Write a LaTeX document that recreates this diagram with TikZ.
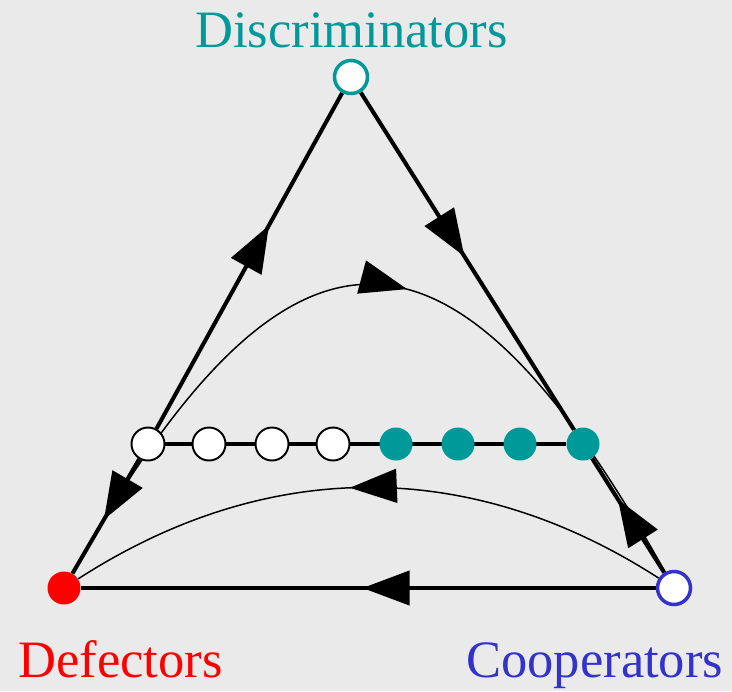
\documentclass[tikz,border=0pt]{standalone}
\usepackage{fontspec}
\setmainfont{Liberation Serif}
\usetikzlibrary{arrows.meta, decorations.markings}
\definecolor{discteal}{RGB}{0,153,153}
\definecolor{defred}{RGB}{255,0,0}
\definecolor{coopblue}{RGB}{51,51,204}
\definecolor{bggray}{RGB}{234,234,234}
\pgfdeclarelayer{canvas}
\pgfdeclarelayer{edges}
\pgfsetlayers{canvas,edges,main}
\tikzset{
  bigtip/.tip={Triangle[length=0.94cm, width=0.68cm]},
  edge/.style={line width=2.3pt, black},
  flow/.style={line width=0.85pt, black},
  arrowat/.style={
    postaction={decorate, decoration={markings,
      mark=at position #1 with {\arrow{bigtip}}}}
  },
  state/.style={circle, minimum size=0.66cm, inner sep=0pt},
  unstable/.style={state, draw=black, fill=white, line width=1.1pt},
  stable/.style={state, fill=discteal},
  vertexname/.style={anchor=base west, inner sep=0pt,
    font=\fontsize{29.9}{34}\selectfont}
}
\begin{document}
\begin{tikzpicture}[x=0.02cm, y=-0.02cm]
  % Background
  \begin{pgfonlayer}{canvas}
    \fill[bggray] (0,0) rectangle (732,691);
  \end{pgfonlayer}
  \useasboundingbox (0,0) rectangle (732,691);

  % Vertices
  \node[state, draw=discteal, fill=white, line width=2pt] (disc) at (351,77) {};
  \node[state, fill=defred] (defe) at (64,588) {};
  \node[state, draw=coopblue, fill=white, line width=2pt] (coop) at (674,588) {};

  % Line of fixed points
  \foreach \x [count=\i] in {148,209,272,333} {
    \node[unstable] (m\i) at (\x,444) {};
  }
  \foreach \x [count=\i from 5] in {396,458,520,583} {
    \node[stable] (m\i) at (\x,444) {};
  }

  \begin{pgfonlayer}{edges}
    % Edges
    \draw[edge, arrowat=0.606] (m1) -- (disc);
    \draw[edge, arrowat=0.53]  (m1) -- (defe);
    \draw[edge, arrowat=0.486] (disc) -- (m8);
    \draw[edge, arrowat=0.643] (coop) -- (m8);
    \draw[edge, arrowat=0.51]  (coop) -- (defe);
    \draw[edge] (m1) -- (m8);

    % Trajectories
    \draw[flow, arrowat=0.545] (defe) .. controls (290,186) and (452,190) .. (coop);
    \draw[flow, arrowat=0.53]  (coop) .. controls (471,457) and (267,457) .. (defe);
  \end{pgfonlayer}

  % Labels
  \node[vertexname, text=discteal] (disclabel) at (195,47) {Discriminators};
  \node[vertexname, text=defred] (defelabel) at (18,677) {Defectors};
  \node[vertexname, text=coopblue] (cooplabel) at (466,677) {Cooperators};
\end{tikzpicture}
\end{document}
